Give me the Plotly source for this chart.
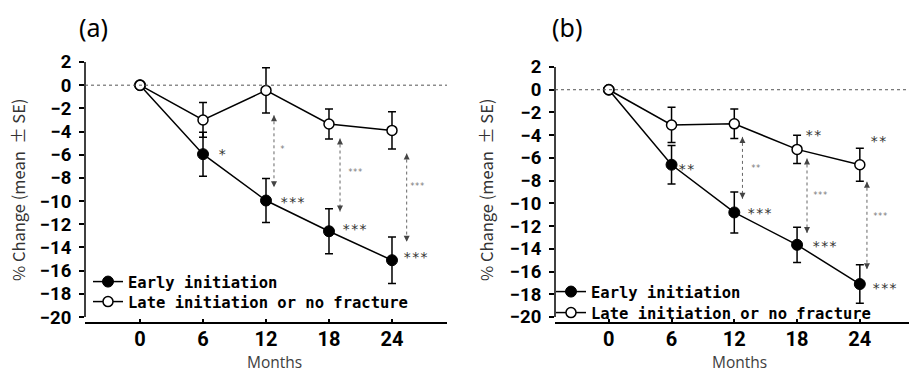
import plotly.graph_objects as go

# ---------------- data ----------------
months = [0, 6, 12, 18, 24]
x_tick_labels = ["0", "6", "12", "18", "24"]
y_tick_vals = [2, 0, -2, -4, -6, -8, -10, -12, -14, -16, -18, -20]
y_tick_labels = ["2", "0", "\u22122", "\u22124", "\u22126", "\u22128", "\u221210",
                 "\u221212", "\u221214", "\u221216", "\u221218", "\u221220"]

a_early = [0, -5.95, -9.95, -12.6, -15.1]
a_early_se = [0, 1.9, 1.9, 1.95, 2.0]
a_late = [0, -3.0, -0.45, -3.35, -3.9]
a_late_se = [0, 1.5, 1.95, 1.3, 1.6]

b_early = [0, -6.6, -10.8, -13.65, -17.1]
b_early_se = [0, 1.7, 1.8, 1.55, 1.7]
b_late = [0, -3.1, -3.0, -5.25, -6.6]
b_late_se = [0, 1.55, 1.3, 1.25, 1.45]

# significance stars next to points
a_star_x = [7.8, 14.5, 20.4, 26.2]
a_star_y = [-5.6, -9.7, -12.1, -14.5]
a_star_txt = ["*", "***", "***", "***"]

b_star_x = [7.4, 14.4, 20.6, 26.4, 19.6, 25.8]
b_star_y = [-6.6, -10.5, -13.4, -17.1, -3.6, -4.2]
b_star_txt = ["**", "***", "***", "***", "**", "**"]

# between-group comparison arrows
a_arr_x = [12.76, 19.05, 25.4]
a_arr_top = [-2.6, -4.6, -5.9]
a_arr_bot = [-8.8, -10.9, -13.5]
a_arr_lbl_x = [13.6, 20.5, 26.4]
a_arr_lbl_y = [-5.3, -7.3, -8.5]
a_arr_txt = ["*", "***", "***"]

b_arr_x = [12.78, 18.95, 24.68]
b_arr_top = [-4.15, -6.05, -8.1]
b_arr_bot = [-9.6, -12.6, -15.8]
b_arr_lbl_x = [14.05, 20.2, 25.96]
b_arr_lbl_y = [-6.7, -9.0, -10.85]
b_arr_txt = ["**", "***", "***"]

series_names = ["Early initiation", "Late initiation or no fracture"]

W, H = 909, 375
fig = go.Figure()

def add_panel(xa, ya, legends, early, early_se, late, late_se):
    fig.add_trace(go.Scatter(
        x=months, y=early, xaxis=xa, yaxis=ya, legend=legends[0],
        name=series_names[0], mode="lines+markers",
        line=dict(color="black", width=1.5),
        marker=dict(size=11, color="black", line=dict(color="black", width=1)),
        error_y=dict(type="data", array=early_se, visible=True, color="black",
                     thickness=1.5, width=4)))
    fig.add_trace(go.Scatter(
        x=months, y=late, xaxis=xa, yaxis=ya, legend=legends[1],
        name=series_names[1], mode="lines+markers",
        line=dict(color="black", width=1.5),
        marker=dict(size=10, color="white", line=dict(color="black", width=1.5)),
        error_y=dict(type="data", array=late_se, visible=True, color="black",
                     thickness=1.5, width=4)))

add_panel("x", "y", ["legend", "legend2"], a_early, a_early_se, a_late, a_late_se)
add_panel("x2", "y2", ["legend3", "legend4"], b_early, b_early_se, b_late, b_late_se)

common_x = dict(showline=True, linecolor="black", linewidth=1.5, showgrid=False,
                zeroline=False, tickvals=months, ticktext=x_tick_labels,
                ticks="inside", ticklen=3, tickwidth=1.5, tickcolor="black",
                tickfont=dict(family="Roboto", size=20, color="black", weight="bold"),
                ticklabelstandoff=-2, automargin=False)
common_y = dict(showline=False, showgrid=False, zeroline=False, tickvals=y_tick_vals,
                ticktext=y_tick_labels, ticks="outside", ticklen=5, tickwidth=1.5,
                tickcolor="black",
                tickfont=dict(family="Roboto", size=18.5, color="black", weight="bold"),
                ticklabelstandoff=4, automargin=False)

leg_font = dict(family="DejaVu Sans Mono", size=15.5, color="black", weight="bold")
def leg(xpx, ypx):
    return dict(x=xpx / W, y=1 - ypx / H, xanchor="left", yanchor="top",
                bgcolor="rgba(0,0,0,0)", font=leg_font)

fig.update_layout(
    width=W, height=H, margin=dict(l=0, r=0, t=0, b=0, autoexpand=False),
    paper_bgcolor="white", plot_bgcolor="white",
    xaxis=dict(domain=[85 / W, 447 / W], range=[-5.24, 29.24], anchor="y", **common_x),
    yaxis=dict(domain=[1 - 322 / H, 1 - 62 / H], range=[-20.43, 2], anchor="x", **common_y),
    xaxis2=dict(domain=[555 / W, 1.0], range=[-5.14, 28.7], anchor="y2", **common_x),
    yaxis2=dict(domain=[1 - 322 / H, 1 - 67 / H], range=[-20.44, 2], anchor="x2", **common_y),
    legend=leg(88, 265),
    legend2=leg(88, 285),
    legend3=leg(551, 275),
    legend4=leg(551, 296),
    showlegend=True,
)

shapes = []
annotations = []
for xa, ya in [("x", "y"), ("x2", "y2")]:
    # y axis line from -20 to 2
    shapes.append(dict(type="line", xref=f"{xa} domain", yref=ya, x0=0, x1=0, y0=-20, y1=2,
                       line=dict(color="black", width=1.5)))
    # dotted zero reference line
    shapes.append(dict(type="line", xref=f"{xa} domain", yref=ya, x0=0, x1=1, y0=0, y1=0,
                       line=dict(color="#555555", width=1, dash="dot")))

def add_arrows(xa, ya, xs, tops, bots, lx, ly, txt):
    for xi, t, b, x2, y2, s in zip(xs, tops, bots, lx, ly, txt):
        shapes.append(dict(type="line", xref=xa, yref=ya, x0=xi, x1=xi, y0=t, y1=b,
                           line=dict(color="#666666", width=1, dash="dot")))
        for tip, tail in [(t, t - 0.5), (b, b + 0.5)]:
            annotations.append(dict(x=xi, y=tip, ax=xi, ay=tail, xref=xa, yref=ya,
                                    axref=xa, ayref=ya, text="", showarrow=True,
                                    arrowhead=2, arrowsize=1.2, arrowwidth=1,
                                    arrowcolor="#444444", standoff=0))
        annotations.append(dict(x=x2, y=y2, xref=xa, yref=ya, text=s, showarrow=False,
                                yshift=-3,
                                font=dict(family="DejaVu Sans Mono", size=8, color="#777777")))

def add_stars(xa, ya, xs, ys, txt):
    for xi, yi, s in zip(xs, ys, txt):
        annotations.append(dict(x=xi, y=yi, xref=xa, yref=ya, text=s, showarrow=False,
                                yshift=-4,
                                font=dict(family="DejaVu Sans Mono", size=14, color="#333333")))

add_arrows("x", "y", a_arr_x, a_arr_top, a_arr_bot, a_arr_lbl_x, a_arr_lbl_y, a_arr_txt)
add_arrows("x2", "y2", b_arr_x, b_arr_top, b_arr_bot, b_arr_lbl_x, b_arr_lbl_y, b_arr_txt)
add_stars("x", "y", a_star_x, a_star_y, a_star_txt)
add_stars("x2", "y2", b_star_x, b_star_y, b_star_txt)

ytitle = "% Change (mean\u00a0\u00a0\u00b1\u00a0SE)"
for xp in [18, 486]:
    annotations.append(dict(x=xp / W, y=1 - 190 / H, xref="paper", yref="paper",
                            text=ytitle, textangle=-90, showarrow=False,
                            xanchor="center", yanchor="middle",
                            font=dict(family="Noto Sans CJK JP", size=16.5, color="#333333")))
for xp in [274, 739]:
    annotations.append(dict(x=xp / W, y=0, xref="paper", yref="paper",
                            text="Months", showarrow=False, xanchor="center", yanchor="bottom",
                            font=dict(family="Open Sans", size=15.5, color="#404040")))
for lbl, xp in [("(a)", 93), ("(b)", 567)]:
    annotations.append(dict(x=xp / W, y=1 - 27 / H, xref="paper", yref="paper",
                            text=lbl, showarrow=False, xanchor="center", yanchor="middle",
                            font=dict(family="Noto Sans", size=25, color="black")))

fig.update_layout(shapes=shapes, annotations=annotations)
fig.write_html("out.html")
